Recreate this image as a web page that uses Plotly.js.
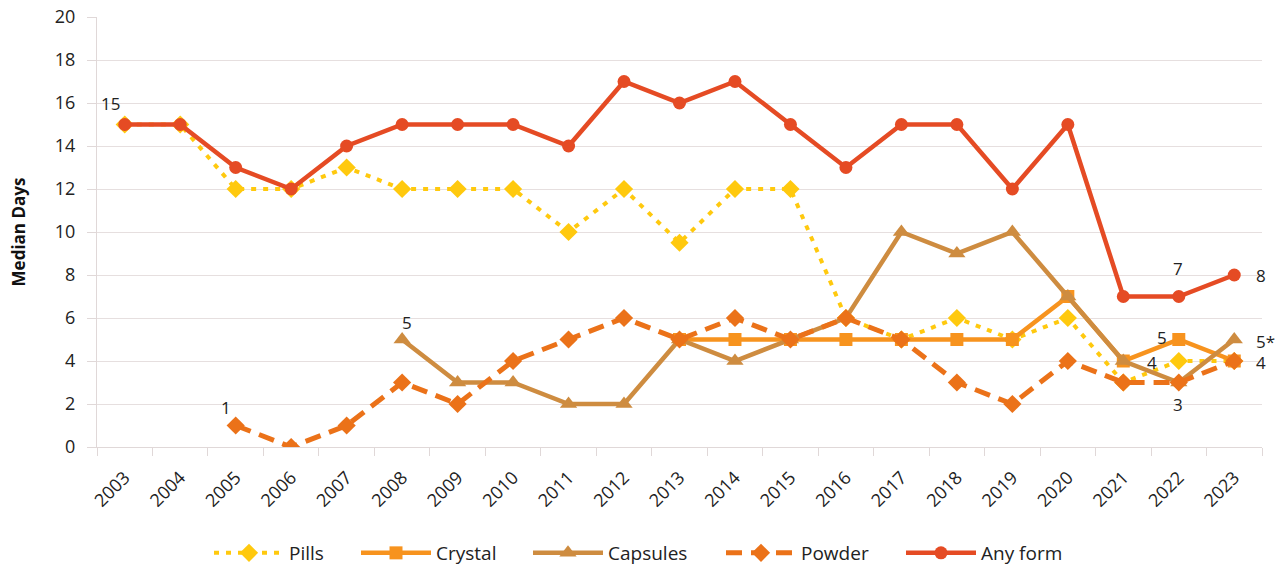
<!DOCTYPE html>
<html>
<head>
<meta charset="utf-8">
<script src="https://cdn.plot.ly/plotly-3.0.1.min.js"></script>
<style>html,body{margin:0;padding:0;background:#fff}#chart{width:1287px;height:570px}</style>
</head>
<body>
<div id="chart"></div>
<script>
const years = ['2003','2004','2005','2006','2007','2008','2009','2010','2011','2012','2013','2014','2015','2016','2017','2018','2019','2020','2021','2022','2023'];
const pills    = [15,15,12,12,13,12,12,12,10,12,9.5,12,12,6,5,6,5,6,3,4,4];
const crystal  = [null,null,null,null,null,null,null,null,null,null,5,5,5,5,5,5,5,7,4,5,4];
const capsules = [null,null,null,null,null,5,3,3,2,2,5,4,5,6,10,9,10,7,4,3,5];
const powder   = [null,null,1,0,1,3,2,4,5,6,5,6,5,6,5,3,2,4,3,3,4];
const anyForm  = [15,15,13,12,14,15,15,15,14,17,16,17,15,13,15,15,12,15,7,7,8];
const seriesNames = ['Pills','Crystal','Capsules','Powder','Any form'];
const yTicks = [0,2,4,6,8,10,12,14,16,18,20];

const FONT = '"Open Sans", "Noto Sans", sans-serif';
const legendIds = ['legend','legend2','legend3','legend4','legend5'];
const legendX = [209, 356, 528, 721, 901];

const traces = [
  {name: seriesNames[0], y: pills, color: '#FFC90E', dash: '5px,7px', width: 4, symbol: 'diamond', size: 14},
  {name: seriesNames[1], y: crystal, color: '#F7931E', dash: 'solid', width: 4.5, symbol: 'square', size: 13},
  {name: seriesNames[2], y: capsules, color: '#CE8C40', dash: 'solid', width: 4.5, symbol: 'triangle-up', size: 15},
  {name: seriesNames[3], y: powder, color: '#EB7219', dash: '16px,9px', width: 5, symbol: 'diamond', size: 14},
  {name: seriesNames[4], y: anyForm, color: '#E54B24', dash: 'solid', width: 4.5, symbol: 'circle', size: 13}
].map((s, i) => ({
  type: 'scatter', mode: 'lines+markers', x: years, y: s.y, name: s.name,
  line: {color: s.color, width: s.width, dash: s.dash},
  marker: {color: s.color, symbol: s.symbol, size: s.size},
  connectgaps: false, legend: legendIds[i]
}));

function lab(i, y, text, dx, dy) {
  return {x: i, y: y, xref: 'x', yref: 'y', text: text, showarrow: false,
    xshift: dx, yshift: dy, font: {family: FONT, size: 17, color: '#222'}};
}
const annotations = [
  lab(0, anyForm[0], String(anyForm[0]), -14, 21),
  lab(2, powder[2], String(powder[2]), -10, 18),
  lab(5, capsules[5], String(capsules[5]), 5, 17),
  lab(19, anyForm[19], String(anyForm[19]), -1, 28),
  lab(20, anyForm[20], String(anyForm[20]), 27, 0),
  lab(19, crystal[19], String(crystal[19]), -17, 2),
  lab(19, pills[19], String(pills[19]), -27, -1),
  lab(19, capsules[19], String(capsules[19]), -1, -22),
  lab(20, capsules[20], String(capsules[20]) + '*', 31, -2),
  lab(20, crystal[20], String(crystal[20]), 27, -1)
];

const layout = {
  width: 1287, height: 570,
  margin: {l: 97, r: 25, t: 17, b: 123},
  paper_bgcolor: '#fff', plot_bgcolor: '#fff',
  font: {family: FONT, size: 16, color: '#222'},
  showlegend: true,
  xaxis: {
    type: 'category', range: [-0.5, 20.5], tickangle: -45,
    showgrid: false, showline: true, linecolor: '#e0d8d8', linewidth: 1,
    ticks: 'outside', tickson: 'boundaries', ticklen: 8, tickcolor: '#e0d8d8',
    ticklabelstandoff: 12,
    tickfont: {family: FONT, size: 18, color: '#222'}, fixedrange: true
  },
  yaxis: {
    range: [0, 20], tickvals: yTicks, ticktext: yTicks.map(String),
    showgrid: true, gridcolor: '#e6dfdf', gridwidth: 1,
    showline: true, linecolor: '#e0d8d8', zeroline: false,
    ticks: 'outside', ticklen: 9, tickcolor: '#e0d8d8', ticklabelstandoff: 8,
    tickfont: {family: FONT, size: 18, color: '#222'},
    title: {text: 'Median Days', font: {family: FONT, size: 17, color: '#111', weight: 'bold'}, standoff: 24}
  },
  annotations: annotations
};
legendIds.forEach((id, i) => {
  layout[id] = {orientation: 'h', xref: 'container', yref: 'container',
    x: legendX[i] / 1287, xanchor: 'left', y: (570 - 553) / 570, yanchor: 'middle',
    font: {family: FONT, size: 19, color: '#222'}, itemwidth: 70, bgcolor: 'rgba(0,0,0,0)'};
});
Plotly.newPlot('chart', traces, layout, {displayModeBar: false, staticPlot: true});
</script>
</body>
</html>
